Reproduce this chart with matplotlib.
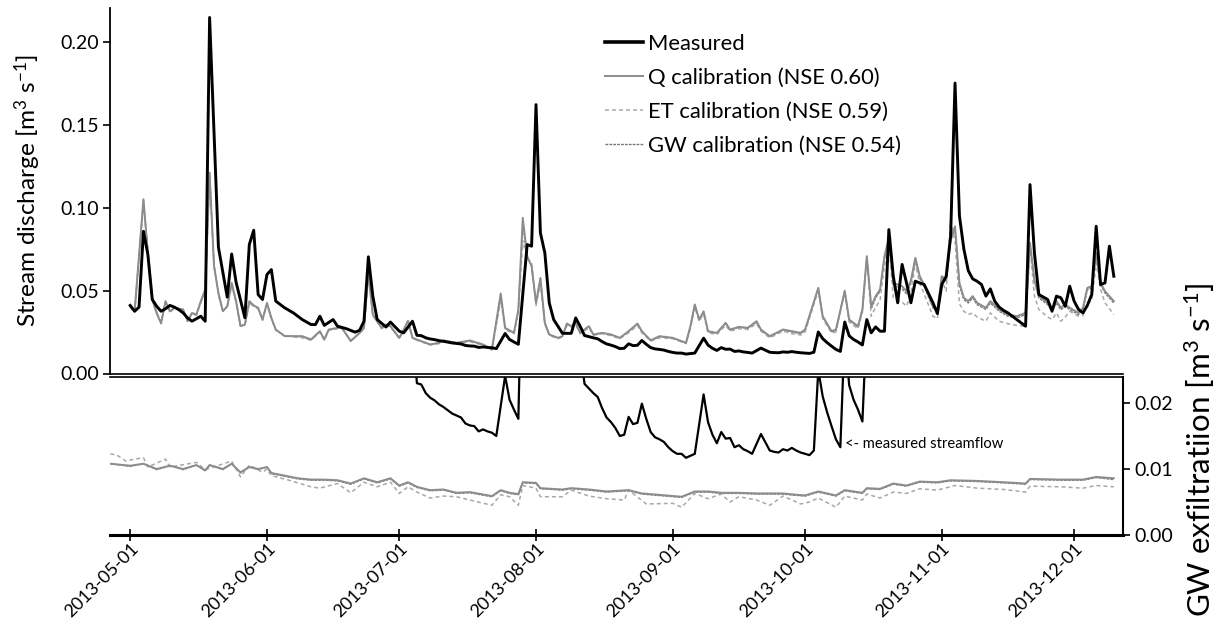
import numpy as np
import matplotlib
matplotlib.use('Agg')
import matplotlib.pyplot as plt
import matplotlib.dates as mdates
from matplotlib.ticker import FormatStrFormatter

plt.rcParams['font.family'] = ['Lato', 'DejaVu Sans']
plt.rcParams['mathtext.fontset'] = 'custom'
plt.rcParams['mathtext.rm'] = 'Lato'
plt.rcParams['mathtext.default'] = 'regular'

###=========== stream discharge (days after 2013-05-01, m3/s) ===========
meas_days = [0, 1, 2, 3, 4, 5, 6, 7, 8, 9,
             10, 11, 12, 13, 14, 15, 16, 17, 18, 20,
             22, 23, 24, 26, 27, 28, 29, 30, 31, 32,
             33, 35, 37, 39, 41, 42, 43, 44, 46, 47,
             49, 51, 52, 53, 54, 55, 56, 58, 59, 61,
             62, 64, 65, 66, 67, 68, 69, 70, 71, 72,
             73, 74, 75, 76, 77, 78, 79, 80, 81, 82,
             83, 85, 86, 87, 88, 90, 91, 92, 93, 94,
             95, 96, 98, 100, 101, 102, 103, 104, 105, 106,
             107, 108, 109, 110, 111, 112, 113, 114, 115, 116,
             117, 118, 119, 120, 121, 122, 123, 124, 125, 126,
             127, 128, 130, 131, 132, 133, 134, 135, 136, 137,
             138, 139, 140, 141, 143, 145, 146, 147, 148, 149,
             150, 151, 152, 153, 154, 155, 156, 157, 158, 159,
             160, 161, 162, 163, 164, 165, 166, 167, 168, 169,
             170, 171, 172, 173, 174, 175, 176, 177, 178, 179,
             180, 182, 183, 184, 185, 186, 187, 188, 189, 190,
             191, 192, 193, 194, 195, 196, 197, 198, 199, 201,
             203, 204, 205, 206, 208, 209, 210, 211, 212, 213,
             214, 215, 216, 217, 218, 219, 220, 221, 222, 223]
measured = [0.0410, 0.0375, 0.0400, 0.0857, 0.0717, 0.0446, 0.0405, 0.0375, 0.0390, 0.0410,
            0.0400, 0.0385, 0.0365, 0.0335, 0.0315, 0.0330, 0.0345, 0.0315, 0.2145, 0.0760,
            0.0460, 0.0720, 0.0550, 0.0336, 0.0777, 0.0863, 0.0476, 0.0446, 0.0596, 0.0626,
            0.0436, 0.0396, 0.0365, 0.0325, 0.0295, 0.0295, 0.0345, 0.0290, 0.0325, 0.0285,
            0.0270, 0.0249, 0.0260, 0.0315, 0.0703, 0.0466, 0.0325, 0.0280, 0.0310, 0.0255,
            0.0245, 0.0315, 0.0230, 0.0228, 0.0215, 0.0208, 0.0204, 0.0198, 0.0194, 0.0189,
            0.0184, 0.0181, 0.0178, 0.0169, 0.0166, 0.0165, 0.0157, 0.0160, 0.0157, 0.0155,
            0.0150, 0.0241, 0.0205, 0.0190, 0.0176, 0.0777, 0.0767, 0.1620, 0.0847, 0.0727,
            0.0426, 0.0325, 0.0242, 0.0242, 0.0335, 0.0285, 0.0229, 0.0222, 0.0215, 0.0209,
            0.0192, 0.0178, 0.0171, 0.0162, 0.0150, 0.0152, 0.0179, 0.0168, 0.0170, 0.0199,
            0.0176, 0.0156, 0.0148, 0.0145, 0.0141, 0.0133, 0.0127, 0.0123, 0.0123, 0.0117,
            0.0120, 0.0123, 0.0213, 0.0171, 0.0152, 0.0139, 0.0156, 0.0146, 0.0147, 0.0133,
            0.0136, 0.0130, 0.0127, 0.0123, 0.0153, 0.0128, 0.0126, 0.0125, 0.0130, 0.0128,
            0.0132, 0.0128, 0.0125, 0.0123, 0.0121, 0.0128, 0.0250, 0.0210, 0.0186, 0.0165,
            0.0145, 0.0133, 0.0310, 0.0227, 0.0205, 0.0190, 0.0172, 0.0325, 0.0245, 0.0281,
            0.0255, 0.0255, 0.0867, 0.0586, 0.0426, 0.0657, 0.0546, 0.0426, 0.0556, 0.0546,
            0.0536, 0.0426, 0.0361, 0.0536, 0.0586, 0.0827, 0.1750, 0.0950, 0.0750, 0.0620,
            0.0570, 0.0556, 0.0536, 0.0466, 0.0510, 0.0436, 0.0400, 0.0380, 0.0365, 0.0325,
            0.0285, 0.1138, 0.0727, 0.0476, 0.0446, 0.0375, 0.0466, 0.0456, 0.0405, 0.0526,
            0.0436, 0.0386, 0.0365, 0.0410, 0.0476, 0.0887, 0.0536, 0.0546, 0.0767, 0.0586]

sim_days = [0, 1, 3, 4, 5, 6, 7, 8, 9, 10,
            12, 13, 14, 15, 16, 17, 18, 19, 20, 21,
            22, 23, 24, 25, 26, 27, 28, 29, 30, 31,
            32, 33, 35, 37, 39, 41, 43, 44, 45, 47,
            48, 50, 52, 53, 54, 55, 57, 58, 59, 61,
            62, 63, 64, 65, 68, 70, 71, 74, 77, 80,
            82, 84, 85, 87, 88, 89, 90, 91, 92, 93,
            94, 95, 97, 98, 99, 100, 101, 102, 104, 105,
            107, 109, 111, 113, 115, 116, 118, 120, 123, 125,
            126, 127, 128, 129, 130, 131, 133, 135, 136, 138,
            140, 142, 143, 145, 148, 150, 152, 153, 156, 157,
            159, 160, 162, 163, 165, 166, 167, 168, 169, 170,
            171, 172, 173, 175, 176, 177, 178, 179, 180, 182,
            183, 184, 185, 186, 187, 188, 189, 190, 191, 192,
            194, 195, 197, 199, 201, 203, 204, 205, 206, 208,
            209, 210, 211, 212, 213, 215, 216, 217, 218, 219,
            220, 221, 223]
q_cal = [0.0405, 0.0375, 0.1050, 0.0727, 0.0446, 0.0365, 0.0301, 0.0436, 0.0375, 0.0396,
         0.0386, 0.0315, 0.0365, 0.0355, 0.0436, 0.0506, 0.1210, 0.0646, 0.0486, 0.0375,
         0.0405, 0.0546, 0.0436, 0.0285, 0.0295, 0.0436, 0.0410, 0.0396, 0.0325, 0.0426,
         0.0335, 0.0265, 0.0225, 0.0225, 0.0225, 0.0205, 0.0255, 0.0205, 0.0265, 0.0275,
         0.0275, 0.0195, 0.0245, 0.0275, 0.0606, 0.0355, 0.0275, 0.0295, 0.0285, 0.0215,
         0.0265, 0.0315, 0.0215, 0.0205, 0.0175, 0.0185, 0.0200, 0.0185, 0.0199, 0.0175,
         0.0145, 0.0482, 0.0275, 0.0245, 0.0386, 0.0938, 0.0707, 0.0646, 0.0426, 0.0576,
         0.0305, 0.0235, 0.0215, 0.0225, 0.0301, 0.0285, 0.0305, 0.0245, 0.0285, 0.0235,
         0.0245, 0.0235, 0.0215, 0.0255, 0.0301, 0.0255, 0.0200, 0.0225, 0.0215, 0.0195,
         0.0185, 0.0285, 0.0416, 0.0325, 0.0375, 0.0255, 0.0245, 0.0305, 0.0265, 0.0281,
         0.0275, 0.0315, 0.0265, 0.0225, 0.0265, 0.0255, 0.0245, 0.0265, 0.0516, 0.0345,
         0.0255, 0.0265, 0.0496, 0.0325, 0.0285, 0.0386, 0.0707, 0.0405, 0.0466, 0.0506,
         0.0707, 0.0817, 0.0546, 0.0526, 0.0496, 0.0560, 0.0697, 0.0586, 0.0536, 0.0405,
         0.0386, 0.0586, 0.0566, 0.0807, 0.0887, 0.0546, 0.0456, 0.0436, 0.0466, 0.0426,
         0.0396, 0.0436, 0.0386, 0.0355, 0.0345, 0.0365, 0.0787, 0.0566, 0.0466, 0.0426,
         0.0386, 0.0436, 0.0396, 0.0416, 0.0396, 0.0365, 0.0396, 0.0516, 0.0526, 0.0727,
         0.0546, 0.0496, 0.0436]
et_cal = [0.0400, 0.0370, 0.1020, 0.0740, 0.0440, 0.0360, 0.0310, 0.0430, 0.0370, 0.0390,
          0.0380, 0.0320, 0.0360, 0.0350, 0.0425, 0.0490, 0.1180, 0.0660, 0.0470, 0.0380,
          0.0400, 0.0530, 0.0430, 0.0290, 0.0290, 0.0425, 0.0405, 0.0390, 0.0320, 0.0415,
          0.0330, 0.0260, 0.0230, 0.0220, 0.0215, 0.0200, 0.0250, 0.0200, 0.0260, 0.0270,
          0.0270, 0.0200, 0.0240, 0.0270, 0.0590, 0.0350, 0.0270, 0.0290, 0.0280, 0.0210,
          0.0260, 0.0325, 0.0210, 0.0200, 0.0172, 0.0180, 0.0195, 0.0180, 0.0192, 0.0170,
          0.0142, 0.0440, 0.0265, 0.0240, 0.0370, 0.0800, 0.0690, 0.0670, 0.0410, 0.0540,
          0.0300, 0.0230, 0.0210, 0.0220, 0.0290, 0.0280, 0.0295, 0.0240, 0.0275, 0.0230,
          0.0240, 0.0228, 0.0210, 0.0245, 0.0290, 0.0245, 0.0195, 0.0215, 0.0210, 0.0190,
          0.0180, 0.0270, 0.0400, 0.0315, 0.0360, 0.0245, 0.0235, 0.0290, 0.0255, 0.0270,
          0.0265, 0.0300, 0.0255, 0.0215, 0.0255, 0.0240, 0.0232, 0.0250, 0.0500, 0.0330,
          0.0245, 0.0250, 0.0506, 0.0310, 0.0270, 0.0370, 0.0697, 0.0345, 0.0400, 0.0440,
          0.0650, 0.0797, 0.0456, 0.0430, 0.0405, 0.0480, 0.0667, 0.0540, 0.0480, 0.0345,
          0.0330, 0.0560, 0.0496, 0.0920, 0.0800, 0.0420, 0.0375, 0.0355, 0.0365, 0.0340,
          0.0315, 0.0365, 0.0315, 0.0300, 0.0290, 0.0285, 0.0767, 0.0466, 0.0386, 0.0340,
          0.0325, 0.0365, 0.0315, 0.0340, 0.0375, 0.0345, 0.0350, 0.0426, 0.0440, 0.0667,
          0.0506, 0.0426, 0.0355]
gw_cal = [0.0405, 0.0372, 0.1040, 0.0730, 0.0444, 0.0362, 0.0305, 0.0432, 0.0373, 0.0394,
          0.0384, 0.0316, 0.0362, 0.0352, 0.0430, 0.0500, 0.1200, 0.0650, 0.0480, 0.0376,
          0.0403, 0.0540, 0.0433, 0.0287, 0.0293, 0.0430, 0.0408, 0.0393, 0.0323, 0.0420,
          0.0333, 0.0263, 0.0227, 0.0223, 0.0222, 0.0203, 0.0253, 0.0203, 0.0263, 0.0273,
          0.0273, 0.0197, 0.0243, 0.0273, 0.0600, 0.0353, 0.0273, 0.0293, 0.0283, 0.0213,
          0.0263, 0.0318, 0.0213, 0.0203, 0.0174, 0.0183, 0.0198, 0.0183, 0.0196, 0.0173,
          0.0144, 0.0470, 0.0272, 0.0243, 0.0380, 0.0900, 0.0700, 0.0650, 0.0420, 0.0570,
          0.0303, 0.0233, 0.0213, 0.0223, 0.0298, 0.0283, 0.0302, 0.0243, 0.0282, 0.0233,
          0.0243, 0.0233, 0.0213, 0.0252, 0.0298, 0.0252, 0.0198, 0.0222, 0.0213, 0.0193,
          0.0183, 0.0280, 0.0410, 0.0322, 0.0370, 0.0252, 0.0242, 0.0300, 0.0262, 0.0278,
          0.0272, 0.0310, 0.0262, 0.0222, 0.0262, 0.0250, 0.0240, 0.0260, 0.0510, 0.0340,
          0.0250, 0.0260, 0.0490, 0.0320, 0.0280, 0.0380, 0.0700, 0.0390, 0.0455, 0.0495,
          0.0690, 0.0810, 0.0530, 0.0510, 0.0480, 0.0545, 0.0690, 0.0575, 0.0525, 0.0395,
          0.0375, 0.0575, 0.0555, 0.0800, 0.0870, 0.0530, 0.0445, 0.0425, 0.0455, 0.0415,
          0.0385, 0.0425, 0.0375, 0.0345, 0.0335, 0.0355, 0.0770, 0.0555, 0.0455, 0.0415,
          0.0375, 0.0425, 0.0385, 0.0405, 0.0385, 0.0355, 0.0385, 0.0505, 0.0515, 0.0715,
          0.0535, 0.0485, 0.0425]

###=========== GW exfiltration (m3/s) ===========
exf_days = [-4.5, 0, 3, 6, 9, 12, 15, 17, 18, 21,
            23, 25, 27, 29, 31, 32, 35, 38, 41, 44,
            47, 50, 53, 56, 59, 61, 63, 65, 68, 71,
            74, 77, 82, 84, 86, 88, 89, 92, 93, 98,
            100, 104, 108, 113, 116, 125, 128, 131, 134, 138,
            142, 148, 151, 153, 156, 160, 162, 166, 167, 170,
            173, 176, 179, 183, 186, 192, 198, 203, 204, 211,
            216, 219, 223]
q_exf = [0.0108, 0.0105, 0.0108, 0.0100, 0.0105, 0.0100, 0.0106, 0.0098, 0.0106, 0.0100,
         0.0108, 0.0095, 0.0103, 0.0100, 0.0103, 0.0094, 0.0090, 0.0086, 0.0084, 0.0084,
         0.0083, 0.0078, 0.0086, 0.0080, 0.0086, 0.0075, 0.0080, 0.0073, 0.0068, 0.0069,
         0.0064, 0.0065, 0.0059, 0.0068, 0.0064, 0.0062, 0.0080, 0.0079, 0.0071, 0.0069,
         0.0071, 0.0069, 0.0066, 0.0068, 0.0063, 0.0058, 0.0066, 0.0066, 0.0064, 0.0064,
         0.0063, 0.0063, 0.0061, 0.0060, 0.0066, 0.0060, 0.0068, 0.0064, 0.0071, 0.0070,
         0.0078, 0.0075, 0.0081, 0.0080, 0.0083, 0.0082, 0.0080, 0.0078, 0.0085, 0.0084,
         0.0084, 0.0088, 0.0086]
gw_exf = [0.0108, 0.0104, 0.0108, 0.0099, 0.0105, 0.0099, 0.0106, 0.0097, 0.0106, 0.0099,
          0.0108, 0.0094, 0.0103, 0.0099, 0.0103, 0.0093, 0.0089, 0.0085, 0.0083, 0.0083,
          0.0082, 0.0077, 0.0085, 0.0079, 0.0085, 0.0074, 0.0079, 0.0072, 0.0067, 0.0068,
          0.0063, 0.0064, 0.0058, 0.0067, 0.0063, 0.0061, 0.0079, 0.0078, 0.0070, 0.0068,
          0.0070, 0.0068, 0.0065, 0.0067, 0.0062, 0.0057, 0.0065, 0.0065, 0.0063, 0.0063,
          0.0062, 0.0062, 0.0060, 0.0059, 0.0065, 0.0059, 0.0067, 0.0063, 0.0070, 0.0069,
          0.0077, 0.0074, 0.0080, 0.0079, 0.0082, 0.0081, 0.0079, 0.0077, 0.0084, 0.0083,
          0.0083, 0.0087, 0.0084]
et_exf_days = [-4.5, -3, -1, 1, 3, 4, 8, 9, 15, 17,
               23, 25, 27, 30, 31, 32, 36, 41, 43, 47,
               50, 53, 56, 59, 61, 63, 65, 68, 71, 74,
               77, 82, 84, 86, 88, 89, 92, 93, 98, 100,
               104, 108, 112, 113, 117, 123, 125, 128, 131, 134,
               136, 138, 142, 145, 148, 152, 154, 156, 160, 162,
               166, 167, 170, 173, 176, 179, 183, 187, 192, 198,
               203, 204, 211, 216, 219, 223]
et_exf = [0.0123, 0.0121, 0.0112, 0.0115, 0.0117, 0.0103, 0.0115, 0.0103, 0.0110, 0.0099,
          0.0112, 0.0088, 0.0106, 0.0095, 0.0100, 0.0090, 0.0083, 0.0073, 0.0071, 0.0078,
          0.0064, 0.0080, 0.0073, 0.0080, 0.0063, 0.0073, 0.0065, 0.0056, 0.0059, 0.0058,
          0.0053, 0.0045, 0.0061, 0.0058, 0.0045, 0.0075, 0.0071, 0.0058, 0.0058, 0.0068,
          0.0059, 0.0055, 0.0053, 0.0068, 0.0047, 0.0048, 0.0042, 0.0063, 0.0055, 0.0062,
          0.0050, 0.0058, 0.0053, 0.0045, 0.0059, 0.0047, 0.0050, 0.0056, 0.0042, 0.0059,
          0.0053, 0.0062, 0.0056, 0.0065, 0.0063, 0.0070, 0.0068, 0.0075, 0.0071, 0.0069,
          0.0065, 0.0074, 0.0073, 0.0071, 0.0075, 0.0073]

labels = ['Measured', 'Q calibration (NSE 0.60)', 'ET calibration (NSE 0.59)',
          'GW calibration (NSE 0.54)']

start = np.datetime64('2013-05-01T00:00')
def to_dates(days):
    return start + np.round(np.array(days) * 24).astype('timedelta64[h]')

q_style = dict(color='#8c8c8c', lw=1.4)
et_style = dict(color='#a8a8a8', lw=1.1, dashes=(2.6, 2.0))
gw_style = dict(color='#777777', lw=1.0, dashes=(2.0, 0.8))

W, H = 1221, 629
fig = plt.figure(figsize=(W / 100, H / 100), dpi=100)
ax1 = fig.add_axes([110 / W, 1 - 373.5 / H, 1013 / W, 365.5 / H])
ax2 = fig.add_axes([110 / W, 1 - 535 / H, 1013 / W, 158 / H])

xlim = to_dates([-4.6, 225.1])

###=========== upper panel ===========
ax1.plot(to_dates(sim_days), gw_cal, **gw_style)
ax1.plot(to_dates(sim_days), et_cal, **et_style)
ax1.plot(to_dates(sim_days), q_cal, **q_style)
ax1.plot(to_dates(meas_days), measured, color='black', lw=2.1)
ax1.set_xlim(xlim)
ax1.set_ylim(0, 0.2202)
ax1.set_yticks([0, 0.05, 0.10, 0.15, 0.20])
ax1.yaxis.set_major_formatter(FormatStrFormatter('%.2f'))
ax1.tick_params(axis='y', direction='out', length=5, width=1.2, labelsize=14, pad=3)
ax1.tick_params(axis='x', bottom=False, labelbottom=False)
for s in ['top', 'right']:
    ax1.spines[s].set_visible(False)
ax1.spines['left'].set_linewidth(1.3)
ax1.spines['bottom'].set_linewidth(1.2)
ax1.set_ylabel('Stream discharge [m$^{3}$ s$^{-1}$]', fontsize=17.6)
ax1.yaxis.set_label_coords(-0.066, 0.5)

###=========== lower panel ===========
ax2.plot(to_dates(exf_days), gw_exf, **gw_style)
ax2.plot(to_dates(et_exf_days), et_exf, **et_style)
ax2.plot(to_dates(exf_days), q_exf, **q_style)
ax2.plot(to_dates(meas_days), measured, color='black', lw=1.6)
ax2.text(to_dates([162.1])[0], 0.0138, '<- measured streamflow', fontsize=10.6,
         va='center', ha='left')
ax2.set_xlim(xlim)
ax2.set_ylim(0, 0.02394)
ax2.set_yticks([0, 0.01, 0.02])
ax2.yaxis.set_major_formatter(FormatStrFormatter('%.2f'))
ax2.yaxis.tick_right()
ax2.tick_params(axis='y', direction='out', length=5, width=1.2, labelsize=14, pad=3)
ax2.xaxis.set_major_locator(mdates.MonthLocator(bymonthday=1))
ax2.xaxis.set_major_formatter(mdates.DateFormatter('%Y-%m-%d'))
ax2.tick_params(axis='x', direction='inout', length=8, width=1.2, labelsize=13, pad=0)
for lab in ax2.get_xticklabels():
    lab.set_rotation(45)
    lab.set_ha('right')
    lab.set_va('top')
    lab.set_rotation_mode('anchor')
ax2.spines['left'].set_visible(False)
ax2.spines['top'].set_linewidth(1.2)
ax2.spines['right'].set_linewidth(1.5)
ax2.spines['bottom'].set_linewidth(2.2)
ax2.yaxis.set_label_position('right')
ax2.set_ylabel('GW exfiltratiion [m$^{3}$ s$^{-1}$]', fontsize=22.5)
ax2.yaxis.set_label_coords(1.059, 0.54)

###=========== legend ===========
h = [plt.Line2D([], [], color='black', lw=2.6),
     plt.Line2D([], [], **q_style),
     plt.Line2D([], [], **et_style),
     plt.Line2D([], [], **gw_style)]
ax1.legend(h, labels, loc='upper left', bbox_to_anchor=(605 / W, 1 - 34 / H),
           bbox_transform=fig.transFigure, frameon=False, fontsize=15.8,
           handlelength=1.73, handletextpad=0.23, labelspacing=0.63,
           borderpad=0, borderaxespad=0)

fig.savefig('out.png', dpi=100)
